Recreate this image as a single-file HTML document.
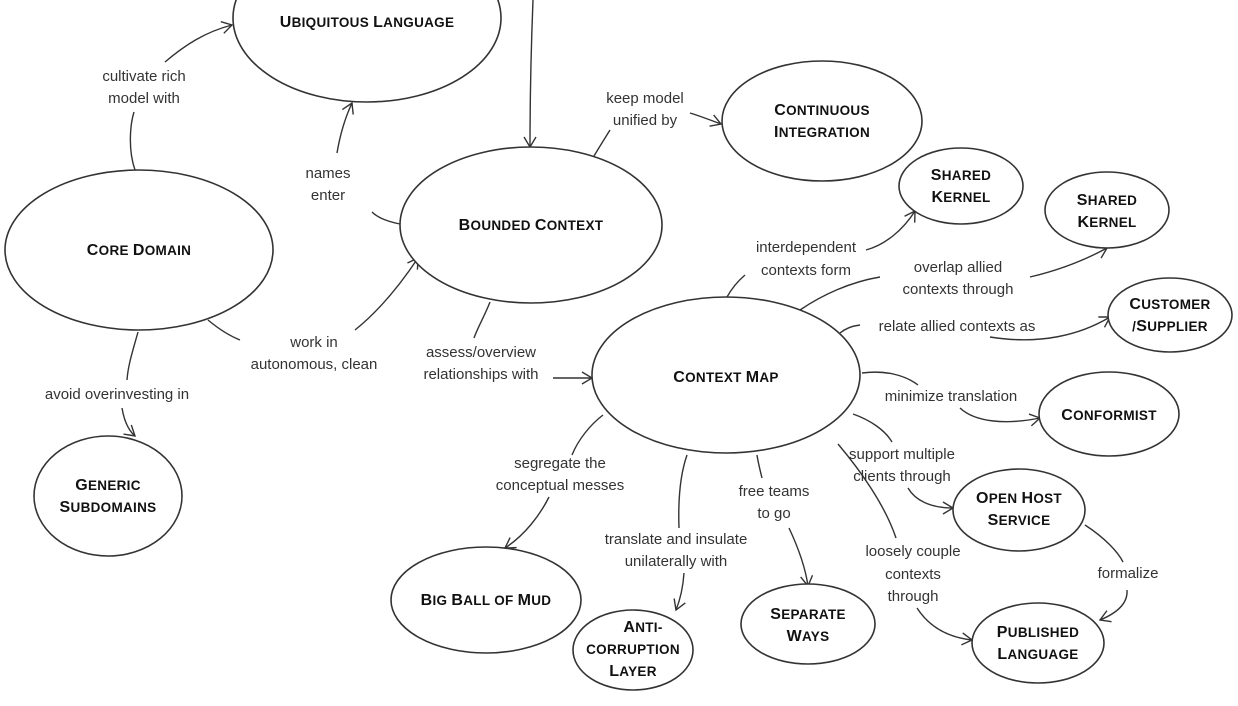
<!DOCTYPE html>
<html><head><meta charset="utf-8"><style>
html,body{margin:0;padding:0;background:#fff;}
svg{display:block;}
.n{font-family:"Liberation Sans",sans-serif;font-weight:bold;font-size:13.5px;text-transform:uppercase;letter-spacing:0.3px;fill:#111;text-anchor:middle;}
.n tspan.c{font-size:16px;}
.l{font-family:"Liberation Sans",sans-serif;font-size:15px;fill:#333;text-anchor:middle;}
ellipse{fill:#fff;stroke:#333;stroke-width:1.6;}
path{fill:none;stroke:#333;stroke-width:1.4;}
</style></head><body>
<svg width="1238" height="706" viewBox="0 0 1238 706" xmlns="http://www.w3.org/2000/svg">
<defs><marker id="a" markerWidth="14" markerHeight="14" refX="11" refY="7" orient="auto" markerUnits="userSpaceOnUse"><path d="M1,1 L11,7 L1,13" style="fill:none;stroke:#333;stroke-width:1.4"/></marker></defs>

<path d="M135,170 C128,150 130,125 134,112"/>
<path d="M165,62 C185,45 205,32 232,25" marker-end="url(#a)"/>
<path d="M400,224 C390,222 378,218 372,212"/>
<path d="M337,153 C340,135 345,118 352,103" marker-end="url(#a)"/>
<path d="M208,320 C220,330 230,336 240,340"/>
<path d="M355,330 C380,310 400,285 418,258" marker-end="url(#a)"/>
<path d="M138,332 C133,350 128,365 127,380"/>
<path d="M122,408 C124,420 128,430 135,436" marker-end="url(#a)"/>
<path d="M533,0 C531,50 530,100 530,147" marker-end="url(#a)"/>
<path d="M594,156 C600,146 605,138 610,130"/>
<path d="M690,113 C700,116 710,120 721,124" marker-end="url(#a)"/>
<path d="M490,302 C485,315 478,327 474,338"/>
<path d="M553,378 L592,378" marker-end="url(#a)"/>
<path d="M727,297 C732,288 738,281 745,275"/>
<path d="M866,250 C885,245 903,230 915,211" marker-end="url(#a)"/>
<path d="M800,310 C822,295 850,282 880,277"/>
<path d="M1030,277 C1060,270 1085,260 1107,248" marker-end="url(#a)"/>
<path d="M840,333 C846,328 852,326 860,325"/>
<path d="M990,337 C1040,345 1080,335 1110,317" marker-end="url(#a)"/>
<path d="M862,373 C885,370 905,375 918,385"/>
<path d="M960,408 C975,422 1005,425 1040,418" marker-end="url(#a)"/>
<path d="M853,414 C870,420 885,430 892,442"/>
<path d="M908,488 C915,500 930,508 953,508" marker-end="url(#a)"/>
<path d="M838,444 C860,470 885,505 896,538"/>
<path d="M917,608 C928,625 945,637 972,640" marker-end="url(#a)"/>
<path d="M1085,525 C1105,538 1118,552 1123,562"/>
<path d="M1127,590 C1128,603 1117,613 1100,620" marker-end="url(#a)"/>
<path d="M757,455 C758,462 760,470 762,478"/>
<path d="M789,528 C797,545 805,565 808,586" marker-end="url(#a)"/>
<path d="M687,455 C680,475 678,500 679,528"/>
<path d="M684,573 C683,588 680,600 676,610" marker-end="url(#a)"/>
<path d="M603,415 C590,425 578,440 572,455"/>
<path d="M549,497 C540,515 525,535 505,548" marker-end="url(#a)"/>

<ellipse cx="367" cy="18" rx="134" ry="84"/>
<text class="n" x="367" y="27"><tspan class="c">U</tspan>biquitous <tspan class="c">L</tspan>anguage</text>
<ellipse cx="139" cy="250" rx="134" ry="80"/>
<text class="n" x="139" y="255"><tspan class="c">C</tspan>ore <tspan class="c">D</tspan>omain</text>
<ellipse cx="531" cy="225" rx="131" ry="78"/>
<text class="n" x="531" y="230"><tspan class="c">B</tspan>ounded <tspan class="c">C</tspan>ontext</text>
<ellipse cx="822" cy="121" rx="100" ry="60"/>
<text class="n" x="822" y="115"><tspan class="c">C</tspan>ontinuous</text><text class="n" x="822" y="137"><tspan class="c">I</tspan>ntegration</text>
<ellipse cx="961" cy="186" rx="62" ry="38"/>
<text class="n" x="961" y="180"><tspan class="c">S</tspan>hared</text><text class="n" x="961" y="202"><tspan class="c">K</tspan>ernel</text>
<ellipse cx="1107" cy="210" rx="62" ry="38"/>
<text class="n" x="1107" y="205"><tspan class="c">S</tspan>hared</text><text class="n" x="1107" y="227"><tspan class="c">K</tspan>ernel</text>
<ellipse cx="1170" cy="315" rx="62" ry="37"/>
<text class="n" x="1170" y="309"><tspan class="c">C</tspan>ustomer</text><text class="n" x="1170" y="331">/<tspan class="c">S</tspan>upplier</text>
<ellipse cx="108" cy="496" rx="74" ry="60"/>
<text class="n" x="108" y="490"><tspan class="c">G</tspan>eneric</text><text class="n" x="108" y="512"><tspan class="c">S</tspan>ubdomains</text>
<ellipse cx="726" cy="375" rx="134" ry="78"/>
<text class="n" x="726" y="382"><tspan class="c">C</tspan>ontext <tspan class="c">M</tspan>ap</text>
<ellipse cx="1109" cy="414" rx="70" ry="42"/>
<text class="n" x="1109" y="420"><tspan class="c">C</tspan>onformist</text>
<ellipse cx="1019" cy="510" rx="66" ry="41"/>
<text class="n" x="1019" y="503"><tspan class="c">O</tspan>pen <tspan class="c">H</tspan>ost</text><text class="n" x="1019" y="525"><tspan class="c">S</tspan>ervice</text>
<ellipse cx="1038" cy="643" rx="66" ry="40"/>
<text class="n" x="1038" y="637"><tspan class="c">P</tspan>ublished</text><text class="n" x="1038" y="659"><tspan class="c">L</tspan>anguage</text>
<ellipse cx="808" cy="624" rx="67" ry="40"/>
<text class="n" x="808" y="619"><tspan class="c">S</tspan>eparate</text><text class="n" x="808" y="641"><tspan class="c">W</tspan>ays</text>
<ellipse cx="633" cy="650" rx="60" ry="40"/>
<text class="n" x="643" y="632"><tspan class="c">A</tspan>nti-</text><text class="n" x="633" y="654">corruption</text><text class="n" x="633" y="676"><tspan class="c">L</tspan>ayer</text>
<ellipse cx="486" cy="600" rx="95" ry="53"/>
<text class="n" x="486" y="605"><tspan class="c">B</tspan>ig <tspan class="c">B</tspan>all of <tspan class="c">M</tspan>ud</text>

<text class="l" x="144" y="81">cultivate rich</text><text class="l" x="144" y="103">model with</text>
<text class="l" x="328" y="178">names</text><text class="l" x="328" y="200">enter</text>
<text class="l" x="314" y="347">work in</text><text class="l" x="314" y="369">autonomous, clean</text>
<text class="l" x="117" y="399">avoid overinvesting in</text>
<text class="l" x="645" y="103">keep model</text><text class="l" x="645" y="125">unified by</text>
<text class="l" x="481" y="357">assess/overview</text><text class="l" x="481" y="379">relationships with</text>
<text class="l" x="806" y="252">interdependent</text><text class="l" x="806" y="275">contexts form</text>
<text class="l" x="958" y="272">overlap allied</text><text class="l" x="958" y="294">contexts through</text>
<text class="l" x="957" y="331">relate allied contexts as</text>
<text class="l" x="951" y="401">minimize translation</text>
<text class="l" x="902" y="459">support multiple</text><text class="l" x="902" y="481">clients through</text>
<text class="l" x="913" y="556">loosely couple</text><text class="l" x="913" y="579">contexts</text><text class="l" x="913" y="601">through</text>
<text class="l" x="1128" y="578">formalize</text>
<text class="l" x="774" y="496">free teams</text><text class="l" x="774" y="518">to go</text>
<text class="l" x="676" y="544">translate and insulate</text><text class="l" x="676" y="566">unilaterally with</text>
<text class="l" x="560" y="468">segregate the</text><text class="l" x="560" y="490">conceptual messes</text>
</svg>
</body></html>
